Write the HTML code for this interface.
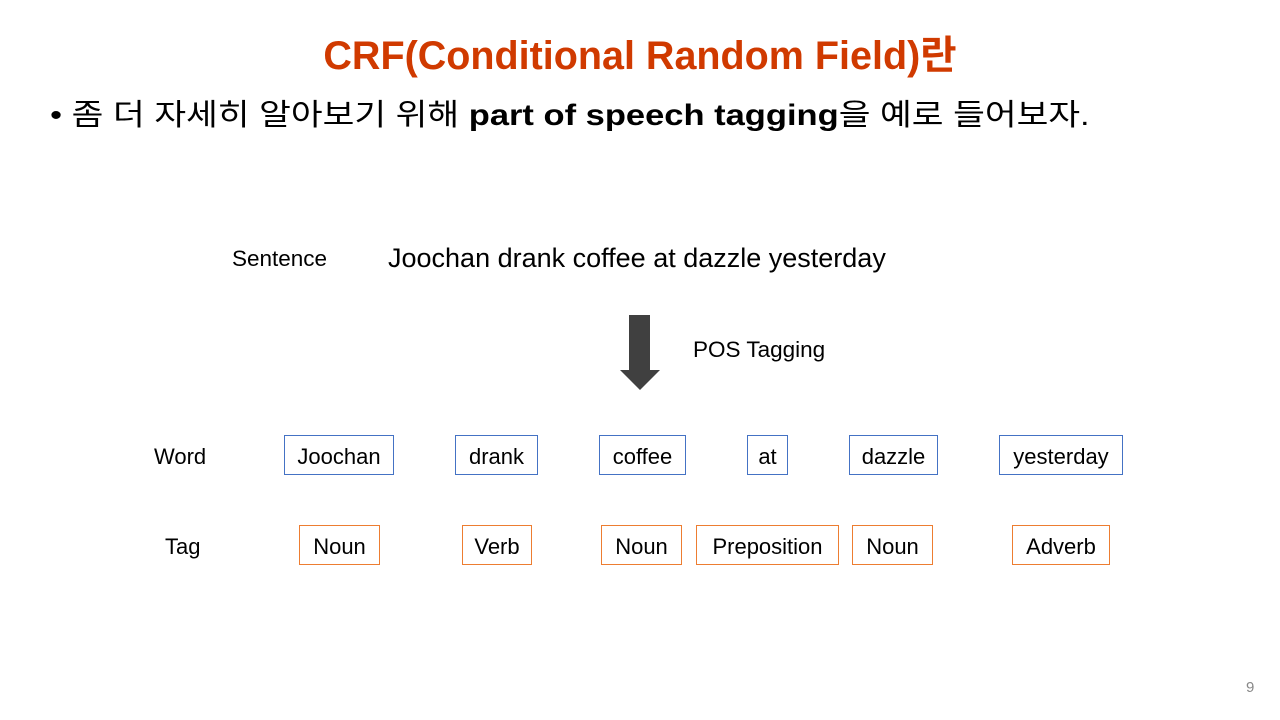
<!DOCTYPE html>
<html><head><meta charset="utf-8"><style>
body{margin:0;width:1280px;height:720px;background:#fff;position:relative;overflow:hidden;font-family:"Liberation Sans","Noto Sans CJK KR",sans-serif;color:#000}
.a{position:absolute;white-space:nowrap}
.b{position:absolute;box-sizing:border-box;display:flex;align-items:center;justify-content:center;font-size:22px;height:40px;padding-top:3px}
.w{border:1.5px solid #4472c4;top:435px}
.t{border:1.5px solid #ed7d31;top:525px}
</style></head><body>
<div class="a" style="left:0;width:1280px;text-align:center;top:24px;font-size:39.5px;font-weight:bold;color:#d03a00">CRF(Conditional Random Field)란</div>
<div class="a" style="left:50px;top:90px;font-size:30px;transform:scaleX(1.15);transform-origin:0 0">• 좀 더 자세히 알아보기 위해 <b>part of speech tagging</b>을 예로 들어보자.</div>
<div class="a" style="left:232px;top:246px;font-size:22.5px">Sentence</div>
<div class="a" style="left:388px;top:243px;font-size:27px">Joochan drank coffee at dazzle yesterday</div>
<svg class="a" style="left:618px;top:314px" width="44" height="78"><polygon points="11,1 32,1 32,56 42,56 22,76 2,56 11,56" fill="#404040"/></svg>
<div class="a" style="left:693px;top:337px;font-size:22.5px">POS Tagging</div>
<div class="a" style="left:154px;top:444px;font-size:22px">Word</div>
<div class="a" style="left:165px;top:534px;font-size:22px">Tag</div>
<div class="b w" style="left:284px;width:110px">Joochan</div>
<div class="b w" style="left:455px;width:83px">drank</div>
<div class="b w" style="left:599px;width:87px">coffee</div>
<div class="b w" style="left:747px;width:41px">at</div>
<div class="b w" style="left:849px;width:89px">dazzle</div>
<div class="b w" style="left:999px;width:124px">yesterday</div>
<div class="b t" style="left:299px;width:81px">Noun</div>
<div class="b t" style="left:462px;width:70px">Verb</div>
<div class="b t" style="left:601px;width:81px">Noun</div>
<div class="b t" style="left:696px;width:143px">Preposition</div>
<div class="b t" style="left:852px;width:81px">Noun</div>
<div class="b t" style="left:1012px;width:98px">Adverb</div>
<div class="a" style="left:1246px;top:679px;font-size:15px;color:#888">9</div>
</body></html>
